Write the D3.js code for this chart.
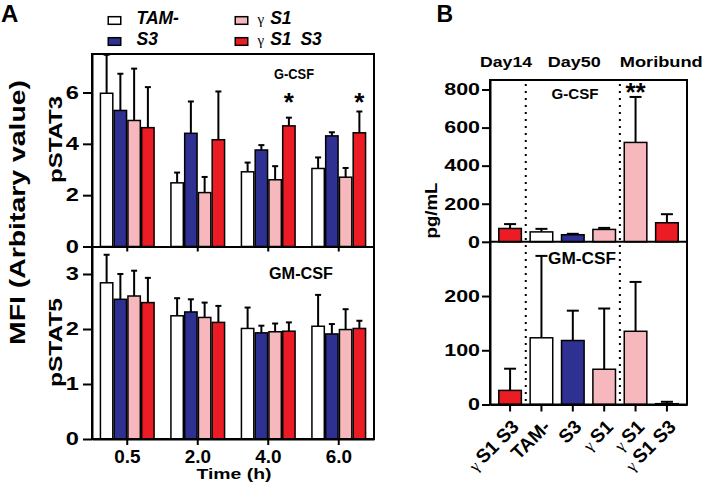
<!DOCTYPE html>
<html><head><meta charset="utf-8">
<script src="https://cdn.jsdelivr.net/npm/d3@7"></script>
<style>body{margin:0;background:#fff}svg{display:block;font-family:'Liberation Sans',Arial,sans-serif}</style>
</head><body><svg id="c" width="707" height="485"></svg>
<script>
// ---------- DATA ----------
const timeLabels = ["0.5", "2.0", "4.0", "6.0"];
const groupNames = ["TAM-", "S3", "γ S1", "γ S1 S3"];
const groupColors = ["#ffffff", "#2e3192", "#f7b8bd", "#ec1c24"];

// Panel A top: pSTAT3 (G-CSF) means and SD per group, per time point
const pstat3TAM = [5.97, 2.48, 2.91, 3.04];
const pstat3S3 = [5.30, 4.41, 3.76, 4.31];
const pstat3gS1 = [4.91, 2.10, 2.60, 2.70];
const pstat3gS1S3 = [4.63, 4.16, 4.70, 4.43];
const pstat3TAMErr = [1.50, 0.40, 0.36, 0.43];
const pstat3S3Err = [1.43, 1.24, 0.19, 0.14];
const pstat3gS1Err = [2.02, 0.61, 0.53, 0.36];
const pstat3gS1S3Err = [1.58, 1.88, 0.32, 0.83];
const pstat3Stars = ["", "", "*", "*"];   // over γ S1 S3

// Panel A bottom: pSTAT5 (GM-CSF)
const pstat5TAM = [2.84, 2.24, 2.01, 2.05];
const pstat5S3 = [2.54, 2.31, 1.93, 1.91];
const pstat5gS1 = [2.60, 2.21, 1.95, 1.99];
const pstat5gS1S3 = [2.48, 2.12, 1.96, 2.01];
const pstat5TAMErr = [0.51, 0.32, 0.38, 0.57];
const pstat5S3Err = [0.46, 0.23, 0.13, 0.18];
const pstat5gS1Err = [0.46, 0.27, 0.15, 0.37];
const pstat5gS1S3Err = [0.45, 0.30, 0.16, 0.14];

const pstat3Ticks = [0, 2, 4, 6];
const pstat5Ticks = [0, 1, 2, 3];

// Panel B
const bLabels = ["γ S1 S3", "TAM-", "S3", "γ S1", "γ S1", "γ S1 S3"];
const bStages = ["Day14", "Day50", "Moribund"];
const gcsf = [70, 52, 37, 65, 522, 100];
const gcsfErr = [23, 16, 5, 8, 239, 45];
const gcsfStars = ["", "", "", "", "**", ""];
const gmcsf = [26, 123, 118, 65, 135, 1.5];
const gmcsfErr = [40, 151, 55, 112, 91, 3.5];
const gcsfTicks = [0, 200, 400, 600, 800];
const gmcsfTicks = [0, 100, 200];

// ---------- HELPERS ----------
const svg = d3.select("#c");
function stretchTo(sel, len) {
  sel.attr("textLength", len).attr("lengthAdjust", "spacingAndGlyphs");
}
function stretchBy(sel, f) {
  sel.each(function () {
    const L = this.getComputedTextLength();
    d3.select(this).attr("textLength", L * f).attr("lengthAdjust", "spacingAndGlyphs");
  });
}
function label(x, y, str, size, opts = {}) {
  const t = svg.append("text").attr("x", x).attr("y", y)
    .attr("font-size", size).attr("font-weight", opts.weight || "bold")
    .attr("text-anchor", opts.anchor || "middle").attr("fill", "#000")
    .text(str);
  if (opts.rotate) t.attr("transform", `rotate(${opts.rotate},${x},${y})`);
  if (opts.len) stretchTo(t, opts.len);
  return t;
}
function styleAxis(g, fs, stretch) {
  g.select(".domain").attr("stroke-width", 2);
  g.selectAll(".tick line").attr("stroke-width", 2);
  g.selectAll(".tick text").attr("font-size", fs).attr("font-weight", "bold")
    .attr("font-family", "'Liberation Sans',Arial,sans-serif").attr("fill", "#000");
  if (stretch) stretchBy(g.selectAll(".tick text"), stretch);
}
const intFmt = d3.format("d");

// ---------- PANEL A ----------
const ax0 = 92, ax1 = 374;
const aTop0 = 54, aMid = 246.5, aBot = 439;
const x0 = d3.scaleBand().domain(timeLabels).range([ax0, ax1]).paddingInner(0.2).paddingOuter(0.1);
const x1 = d3.scaleBand().domain(groupNames).range([0, x0.bandwidth()]).padding(0.1);
const yA3 = d3.scaleLinear().domain([0, 7.5]).range([aMid, aTop0]);
const yA5 = d3.scaleLinear().domain([0, 3.5]).range([aBot, aMid]);

function drawGroupedBars(means, errs, y, capW) {
  const g = svg.append("g");
  groupNames.forEach((gn, gi) => {
    timeLabels.forEach((t, ti) => {
      const v = means[gi][ti], e = errs[gi][ti];
      const bx = x0(t) + x1(gn), bw = x1.bandwidth(), cx = bx + bw / 2;
      g.append("line").attr("x1", cx).attr("x2", cx).attr("y1", y(v)).attr("y2", y(v + e))
        .attr("stroke", "#000").attr("stroke-width", 2);
      g.append("line").attr("x1", cx - capW / 2).attr("x2", cx + capW / 2).attr("y1", y(v + e)).attr("y2", y(v + e))
        .attr("stroke", "#000").attr("stroke-width", 2);
      g.append("rect").attr("x", bx).attr("width", bw).attr("y", y(v)).attr("height", y(0) - y(v))
        .attr("fill", groupColors[gi]).attr("stroke", "#000").attr("stroke-width", 1.5);
    });
  });
}
drawGroupedBars([pstat3TAM, pstat3S3, pstat3gS1, pstat3gS1S3],
  [pstat3TAMErr, pstat3S3Err, pstat3gS1Err, pstat3gS1S3Err], yA3, 6);
drawGroupedBars([pstat5TAM, pstat5S3, pstat5gS1, pstat5gS1S3],
  [pstat5TAMErr, pstat5S3Err, pstat5gS1Err, pstat5gS1S3Err], yA5, 6);

// frame
svg.append("rect").attr("x", ax0).attr("y", aTop0).attr("width", ax1 - ax0).attr("height", aBot - aTop0)
  .attr("fill", "none").attr("stroke", "#000").attr("stroke-width", 2);

// axes
const gA3 = svg.append("g").attr("transform", `translate(${ax0},0)`)
  .call(d3.axisLeft(yA3).tickValues(pstat3Ticks).tickFormat(intFmt).tickSize(9).tickPadding(4).tickSizeOuter(0));
styleAxis(gA3, 17.5, 1.35);
const gA5 = svg.append("g").attr("transform", `translate(${ax0},0)`)
  .call(d3.axisLeft(yA5).tickValues(pstat5Ticks).tickFormat(intFmt).tickSize(9).tickPadding(4).tickSizeOuter(0));
styleAxis(gA5, 17.5, 1.35);
const gAx3 = svg.append("g").attr("transform", `translate(0,${aMid})`)
  .call(d3.axisBottom(x0).tickSize(5).tickFormat("").tickSizeOuter(0));
styleAxis(gAx3, 1);
const gAx5 = svg.append("g").attr("transform", `translate(0,${aBot})`)
  .call(d3.axisBottom(x0).tickSize(6).tickPadding(6).tickSizeOuter(0));
styleAxis(gAx5, 17.5, 1.08);

// stars
timeLabels.forEach((t, ti) => {
  if (pstat3Stars[ti]) {
    const cx = x0(t) + x1(groupNames[3]) + x1.bandwidth() / 2;
    label(cx, 111, pstat3Stars[ti], 26);
  }
});

label(294, 79, "G-CSF", 14.5, { len: 40 });
label(301, 279, "GM-CSF", 16, { len: 64 });
label(234, 478.5, "Time (h)", 15.5, { len: 75 });
label(62, 139.5, "pSTAT3", 17.5, { rotate: -90, len: 87 });
label(62, 342.5, "pSTAT5", 17.5, { rotate: -90, len: 89 });
label(25, 212.5, "MFI (Arbitary value)", 22.5, { rotate: -90, len: 265 });
label(1, 21.5, "A", 24, { anchor: "start" });

// legend
const legPos = [[107.5, 24.3], [107.5, 45.3], [234.5, 24.3], [234.5, 45.3]];
groupNames.forEach((gn, i) => {
  const [lx, ly] = legPos[i];
  svg.append("rect").attr("x", lx + 0.75).attr("y", ly - 7.6).attr("width", 12.5).attr("height", 7.6)
    .attr("fill", groupColors[i]).attr("stroke", "#000").attr("stroke-width", 1.5);
  const t = svg.append("text").attr("x", lx + (i < 2 ? 29 : 23)).attr("y", ly).attr("font-size", 17.5);
  const parts = gn.split(" ");
  if (parts[0] === "γ") {
    t.append("tspan").attr("font-family", "'Liberation Serif',serif").attr("font-size", 15).text("γ");
    t.append("tspan").attr("dx", 6).attr("font-weight", "bold").attr("font-style", "italic")
      .attr("word-spacing", 4).text(parts.slice(1).join(" "));
  } else {
    t.append("tspan").attr("font-weight", "bold").attr("font-style", "italic").text(gn);
  }
});

// ---------- PANEL B ----------
const bx0 = 490, bx1 = 687;
const bTop = 80, bMid = 241.8, bBot = 404.5;
const xb = d3.scaleBand().domain(d3.range(bLabels.length)).range([bx0, bx1]).padding(0.28);
const yB1 = d3.scaleLinear().domain([0, 850]).range([bMid, bTop]);
const yB2 = d3.scaleLinear().domain([0, 300]).range([bBot, bMid]);
const bColorOf = l => groupColors[groupNames.indexOf(l)];

function drawBBars(vals, errs, y) {
  vals.forEach((v, i) => {
    const bx = xb(i), bw = xb.bandwidth(), cx = bx + bw / 2, e = errs[i];
    svg.append("line").attr("x1", cx).attr("x2", cx).attr("y1", y(v)).attr("y2", y(v + e))
      .attr("stroke", "#000").attr("stroke-width", 2);
    svg.append("line").attr("x1", cx - 6).attr("x2", cx + 6).attr("y1", y(v + e)).attr("y2", y(v + e))
      .attr("stroke", "#000").attr("stroke-width", 2);
    svg.append("rect").attr("x", bx).attr("width", bw).attr("y", y(v)).attr("height", y(0) - y(v))
      .attr("fill", bColorOf(bLabels[i])).attr("stroke", "#000").attr("stroke-width", 1.5);
  });
}
drawBBars(gcsf, gcsfErr, yB1);
drawBBars(gmcsf, gmcsfErr, yB2);

// dotted separators
[0.5, 3.5].forEach(k => {
  const sx = xb(0) + xb.bandwidth() / 2 + k * xb.step();
  svg.append("line").attr("x1", sx).attr("x2", sx).attr("y1", bTop + 4).attr("y2", bBot - 2)
    .attr("stroke", "#000").attr("stroke-width", 2).attr("stroke-dasharray", "2,5");
});

svg.append("rect").attr("x", bx0).attr("y", bTop).attr("width", bx1 - bx0).attr("height", bBot - bTop)
  .attr("fill", "none").attr("stroke", "#000").attr("stroke-width", 2);
svg.append("line").attr("x1", bx0).attr("x2", bx1).attr("y1", bMid).attr("y2", bMid)
  .attr("stroke", "#000").attr("stroke-width", 2);

const gB1 = svg.append("g").attr("transform", `translate(${bx0},0)`)
  .call(d3.axisLeft(yB1).tickValues(gcsfTicks).tickFormat(intFmt).tickSize(8).tickPadding(2).tickSizeOuter(0));
styleAxis(gB1, 16.5, 1.3);
const gB2 = svg.append("g").attr("transform", `translate(${bx0},0)`)
  .call(d3.axisLeft(yB2).tickValues(gmcsfTicks).tickFormat(intFmt).tickSize(8).tickPadding(2).tickSizeOuter(0));
styleAxis(gB2, 16.5, 1.3);
const gBx = svg.append("g").attr("transform", `translate(0,${bBot})`)
  .call(d3.axisBottom(xb).tickSize(7).tickFormat("").tickSizeOuter(0));
styleAxis(gBx, 1);

// rotated x labels
bLabels.forEach((l, i) => {
  const cx = xb(i) + xb.bandwidth() / 2 + 10, cy = 428;
  const t = svg.append("text").attr("x", cx).attr("y", cy).attr("text-anchor", "end")
    .attr("font-size", 19).attr("transform", `rotate(-45,${cx},${cy})`);
  const parts = l.split(" ");
  if (parts[0] === "γ") {
    t.append("tspan").attr("font-family", "'Liberation Serif',serif").attr("font-size", 16).text("γ ");
    t.append("tspan").attr("font-weight", "bold").text(parts.slice(1).join(" "));
  } else {
    t.append("tspan").attr("font-weight", "bold").text(l);
  }
});

// stars B
gcsfStars.forEach((s, i) => {
  if (s) label(xb(i) + xb.bandwidth() / 2, 101, s, 26);
});

// stage headers
const cB = i => xb(i) + xb.bandwidth() / 2;
label(cB(0) - 4, 66.5, bStages[0], 15.5, { len: 52 });
label(cB(2) + 1.5, 66.5, bStages[1], 15.5, { len: 53 });
label((cB(4) + cB(5)) / 2 + 10, 66.5, bStages[2], 15.5, { len: 83 });

label(575, 98.5, "G-CSF", 15.5, { len: 47 });
label(582, 264, "GM-CSF", 16, { len: 68 });
label(437, 210.5, "pg/mL", 17, { rotate: -90, len: 56 });
label(436.5, 21.7, "B", 23, { anchor: "start" });
</script></body></html>
